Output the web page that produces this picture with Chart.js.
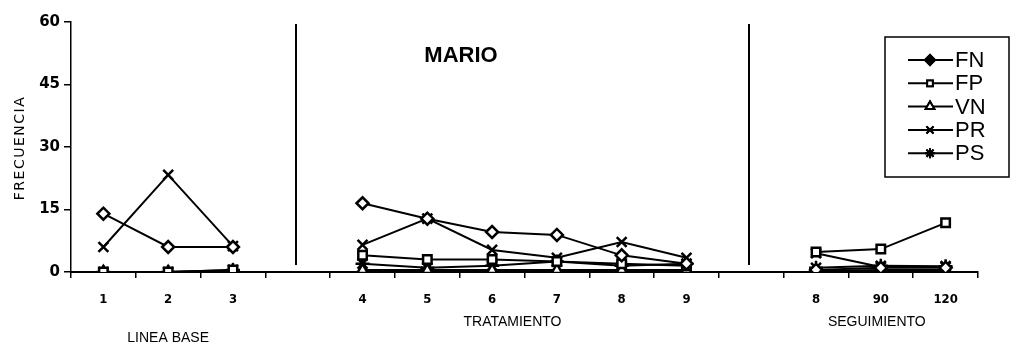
<!DOCTYPE html>
<html lang="es">
<head>
<meta charset="UTF-8">
<title>Mario</title>
<script src="https://cdn.jsdelivr.net/npm/chart.js"></script>
<style>
  html, body { margin: 0; padding: 0; background: #fff; }
  #wrap { width: 1011px; height: 351px; }
</style>
</head>
<body>
<div id="wrap"><canvas id="chart" width="1011" height="351"></canvas></div>
<script>
// sesiones (las vacias separan las fases)
const sesiones = ['1', '2', '3', '', '4', '5', '6', '7', '8', '9', '', '8', '90', '120']
const fases = ['LINEA BASE', 'TRATAMIENTO', 'SEGUIMIENTO']
const yTicks = [0, 15, 30, 45, 60]

const FN = [14, 6, 6, null, 16.5, 12.8, 9.6, 8.9, 4, 2, null, 0.5, 1, 1]
const FP = [0, 0, 0.5, null, 4, 3, 3, 2.5, 2, 1.5, null, 4.8, 5.5, 11.8]
const VN = [0, 0, 0.3, null, 0.5, 0.5, 0.5, 0.5, 0.5, 0.5, null, 0.3, 0.5, 0.5]
const PR = [6, 23.3, 6.2, null, 6.5, 12.8, 5.3, 3.4, 7.2, 3.4, null, 4.5, 1.2, 1.2]
const PS = [0, 0, 0.5, null, 2, 1, 1.5, 2.5, 1.5, 2, null, 1, 1.5, 1.4]

const series = [
  { label: 'FN', data: FN, style: 'rectRot', r: 6, legendFill: '#000' },
  { label: 'FP', data: FP, style: 'rect', r: 6, legendFill: '#fff' },
  { label: 'VN', data: VN, style: 'triangle', r: 6, legendFill: '#fff' },
  { label: 'PR', data: PR, style: 'crossRot', r: 7, legendFill: '#fff' },
  { label: 'PS', data: PS, style: 'star', r: 7, legendFill: '#fff' }
]

const datasets = series.map(s => ({
  label: s.label,
  data: s.data,
  borderColor: '#000',
  borderWidth: 2,
  pointStyle: s.style,
  pointRadius: s.r,
  pointBorderWidth: 2.5,
  pointBorderColor: '#000',
  pointBackgroundColor: '#fff',
  spanGaps: false,
  tension: 0
}))

// lineas de fase, textos y leyenda dibujados a mano
const extras = {
  id: 'extras',
  afterDraw(chart) {
    const ctx = chart.ctx
    const x = chart.scales.x
    const area = chart.chartArea
    ctx.save()
    ctx.strokeStyle = '#000'
    ctx.lineWidth = 2
    ;[3, 10].forEach(i => {
      const px = Math.round(x.getPixelForTick(i)) - 2
      ctx.beginPath()
      ctx.moveTo(px, area.top + 2)
      ctx.lineTo(px, area.bottom - 7)
      ctx.stroke()
    })

    ctx.fillStyle = '#000'
    ctx.textAlign = 'center'
    ctx.textBaseline = 'middle'
    ctx.font = 'bold 22px "Liberation Sans", Arial, sans-serif'
    ctx.fillText('MARIO', 461, 56)

    ctx.font = '14px "Liberation Sans", Arial, sans-serif'
    ctx.fillText(fases[0], x.getPixelForTick(1), 338)
    ctx.fillText(fases[1], (x.getPixelForTick(6) + x.getPixelForTick(7)) / 2 - 12, 322)
    ctx.fillText(fases[2], x.getPixelForTick(12) - 4, 322)

    // titulo eje y
    ctx.save()
    ctx.translate(20, 148)
    ctx.rotate(-Math.PI / 2)
    ctx.font = '14px "DejaVu Sans", sans-serif'
    ctx.letterSpacing = '1.5px'
    ctx.fillText('FRECUENCIA', 0, 0)
    ctx.restore()

    // leyenda
    ctx.lineWidth = 1.5
    ctx.strokeRect(885, 37, 124, 140)
    ctx.textAlign = 'left'
    ctx.font = '22px "Liberation Sans", Arial, sans-serif'
    series.forEach((s, i) => {
      const y = 60 + i * 23.3
      ctx.lineWidth = 2
      ctx.beginPath()
      ctx.moveTo(908, y)
      ctx.lineTo(953, y)
      ctx.stroke()
      Chart.helpers.drawPoint(ctx, {
        pointStyle: s.style,
        radius: s.style === 'rect' ? 4 : 5,
        rotation: 0,
        borderWidth: 1.8
      }, 930, y)
      ctx.fillStyle = s.legendFill
      ctx.fill()
      ctx.stroke()
      ctx.fillStyle = '#000'
      ctx.fillText(s.label, 955, y + 1)
    })
    ctx.restore()
  }
}

new Chart(document.getElementById('chart'), {
  type: 'line',
  data: { labels: sesiones, datasets: datasets },
  options: {
    responsive: false,
    animation: false,
    layout: { padding: { top: 22, right: 33, left: 0, bottom: 0 } },
    plugins: { legend: { display: false }, tooltip: { enabled: false } },
    scales: {
      x: {
        offset: true,
        grid: { display: true, offset: true, drawOnChartArea: false, color: '#000', tickLength: 6, lineWidth: 1.5 },
        border: { color: '#000', width: 2 },
        ticks: { color: '#000', font: { family: '"DejaVu Sans Condensed", "DejaVu Sans"', size: 13, weight: 'bold' }, padding: 14, maxRotation: 0, autoSkip: false },
        afterFit(scale) { scale.height = 79 }
      },
      y: {
        min: 0,
        max: 60,
        afterBuildTicks(scale) { scale.ticks = yTicks.map(v => ({ value: v })) },
        grid: { display: true, drawOnChartArea: false, color: '#000', tickLength: 7, lineWidth: 1.5 },
        border: { color: '#000', width: 1.5 },
        ticks: { color: '#000', font: { family: '"DejaVu Sans"', size: 15, weight: 'bold' }, padding: 4 },
        afterFit(scale) { scale.width = 71 }
      }
    }
  },
  plugins: [extras]
})
</script>
</body>
</html>
